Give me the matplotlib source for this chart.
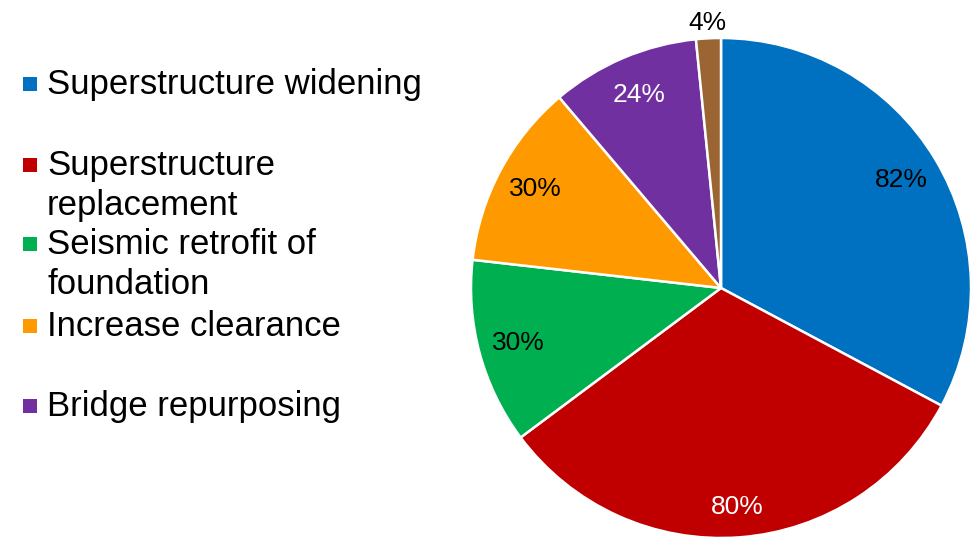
import matplotlib
matplotlib.use("Agg")
import matplotlib.pyplot as plt
import numpy as np
from matplotlib.patches import Rectangle

plt.rcParams['font.family'] = ['Liberation Sans', 'DejaVu Sans']

# share of bridges (%) per modification type
values = [82, 80, 30, 30, 24, 4]
legend_names = ["Superstructure widening",
                "Superstructure\nreplacement",
                "Seismic retrofit of\nfoundation",
                "Increase clearance",
                "Bridge repurposing"]
colors = ["#0070C0", "#C00000", "#00B050", "#FF9900", "#7030A0", "#9A6533"]
label_colors = ["black", "white", "black", "black", "white", "black"]

# radial position of each value label (fraction of radius)
label_dist = [0.84, 0.88, 0.84, 0.84, 0.84, 1.06]

W, H = 977, 539
fig = plt.figure(figsize=(W / 100, H / 100), dpi=100)

# pie centred at (721, 288) px with radius 250 px
cx, cy, r = 721, 288, 250
ax = fig.add_axes([(cx - r) / W, (H - cy - r) / H, 2 * r / W, 2 * r / H])
wedges, _ = ax.pie(values, colors=colors, startangle=90, counterclock=False,
                   radius=1, wedgeprops=dict(edgecolor="white", linewidth=1.8))
ax.set_xlim(-1, 1)
ax.set_ylim(-1, 1)
ax.set_aspect("equal")
ax.axis("off")

for w, v, tc, d in zip(wedges, values, label_colors, label_dist):
    mid = np.deg2rad((w.theta1 + w.theta2) / 2)
    ax.text(d * np.cos(mid), d * np.sin(mid), f"{v}%", color=tc,
            fontsize=19, ha="center", va="center")

# legend, one entry per wrapped label (baseline of first line in px)
baselines = [94, 175, 254, 336, 416]
line_step = 40
for name, col, yb in zip(legend_names, colors, baselines):
    for i, line in enumerate(name.split("\n")):
        fig.text(47 / W, 1 - (yb + i * line_step) / H, line, fontsize=25,
                 ha="left", va="baseline")
    fig.patches.append(Rectangle((23 / W, 1 - (yb - 3) / H), 14 / W, 14 / H,
                                 transform=fig.transFigure, facecolor=col,
                                 edgecolor="none"))

fig.savefig("out.png", dpi=100)
